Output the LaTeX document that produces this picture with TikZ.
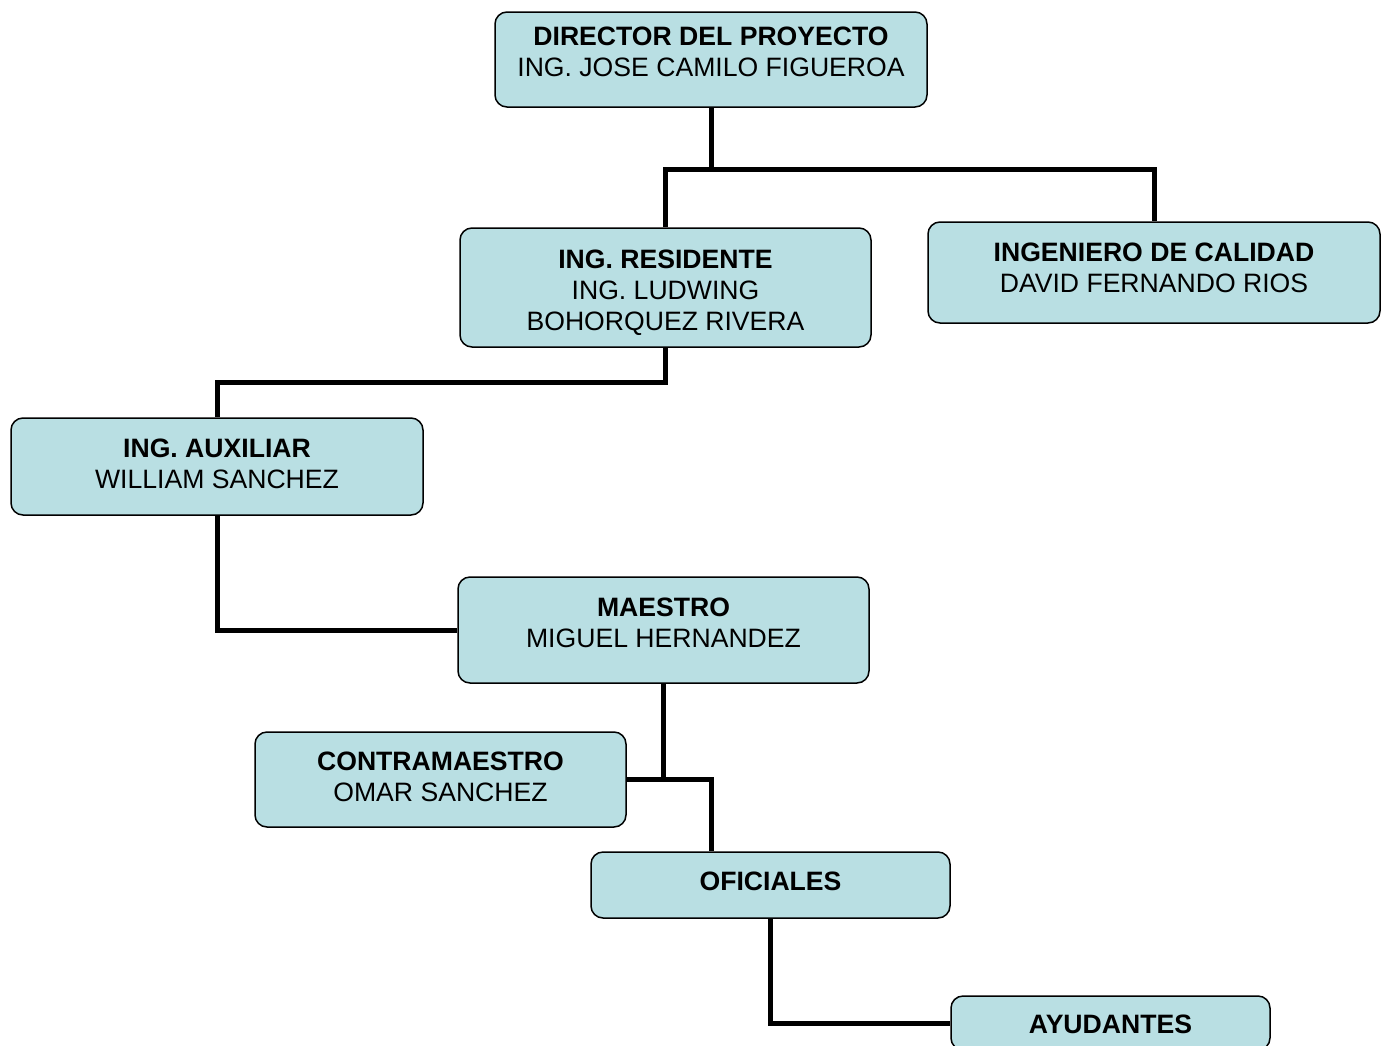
\documentclass[tikz,border=0pt]{standalone}
\usepackage{fontspec}
\setmainfont{Liberation Sans}
\usetikzlibrary{calc}
\definecolor{cajacolor}{RGB}{185,223,227}

\begin{document}
\begin{tikzpicture}[x=1pt,y=-1pt,
    caja/.style={draw=black,line width=1.5pt,fill=cajacolor,rounded corners=12pt,inner sep=0pt},
    texto/.style={align=center,inner sep=0pt,font=\fontsize{26.6}{31}\selectfont},
    enlace/.style={line width=5pt,line join=miter}]
\useasboundingbox (0,0) rectangle (1385,1045);

\node[caja,minimum width=432pt,minimum height=95pt] (director) at (711,59.5) {};
\node[caja,minimum width=411pt,minimum height=119pt] (residente) at (665.5,287.5) {};
\node[caja,minimum width=452pt,minimum height=101pt] (calidad) at (1154,272.5) {};
\node[caja,minimum width=412pt,minimum height=97pt] (auxiliar) at (217,466.5) {};
\node[caja,minimum width=411pt,minimum height=106pt] (maestro) at (663.5,630) {};
\node[caja,minimum width=371pt,minimum height=95pt] (contramaestro) at (440.5,779.5) {};
\node[caja,minimum width=359pt,minimum height=66pt] (oficiales) at (770.5,885) {};
\node[caja,minimum width=319pt,minimum height=54pt] (ayudantes) at (1110.5,1023) {};

% textos
\node[texto] (directortxt) at ($(director)+(0,-7.5)$)
    {\textbf{DIRECTOR DEL PROYECTO}\\ING. JOSE CAMILO FIGUEROA};
\node[texto] (residentetxt) at ($(residente)+(0,5)$)
    {\textbf{ING. RESIDENTE}\\ING. LUDWING\\BOHORQUEZ RIVERA};
\node[texto] (calidadtxt) at ($(calidad)+(0,-5)$)
    {\textbf{INGENIERO DE CALIDAD}\\DAVID FERNANDO RIOS};
\node[texto] (auxiliartxt) at ($(auxiliar)+(0,-3)$)
    {\textbf{ING. AUXILIAR}\\WILLIAM SANCHEZ};
\node[texto] (maestrotxt) at ($(maestro)+(0,-7.5)$)
    {\textbf{MAESTRO}\\MIGUEL HERNANDEZ};
\node[texto] (contramaestrotxt) at ($(contramaestro)+(0,-2.5)$)
    {\textbf{CONTRAMAESTRO}\\OMAR SANCHEZ};
\node[texto] (oficialestxt) at ($(oficiales)+(0,-4)$) {\textbf{OFICIALES}};
\node[texto] (ayudantestxt) at ($(ayudantes)+(0,1)$) {\textbf{AYUDANTES}};

% enlaces
\coordinate (j1) at (711,169);
\coordinate (j2) at (665.5,382);
\coordinate (j3) at (663.5,779.5);
\draw[enlace] (director.south) -- (j1) -| (residente.north);
\draw[enlace] (j1) -| (calidad.north);
\draw[enlace] (residente.south) -- (j2) -| (auxiliar.north);
\draw[enlace] (auxiliar.south) |- (maestro.west);
\draw[enlace] (maestro.south) -- (j3) -- (contramaestro.east);
\draw[enlace] (j3) -| ($(oficiales.north)+(-59.5,0)$);
\draw[enlace] (oficiales.south) |- (ayudantes.west);

\end{tikzpicture}
\end{document}
